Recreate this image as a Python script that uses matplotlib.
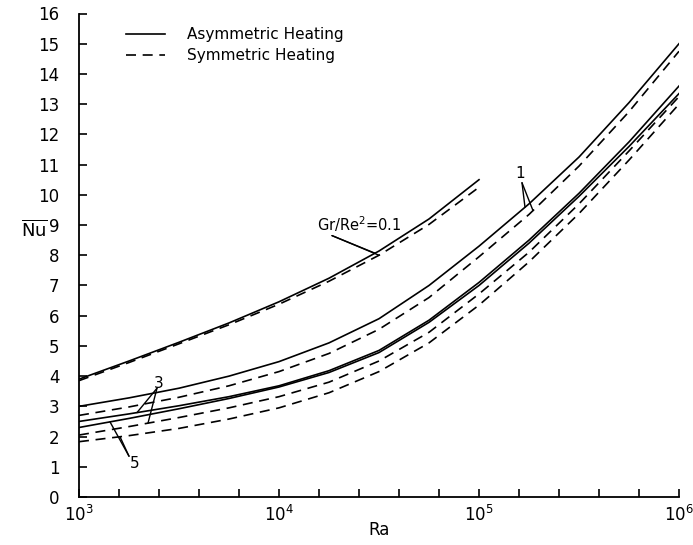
import numpy as np
import matplotlib.pyplot as plt
from matplotlib.ticker import FixedLocator, FuncFormatter, NullLocator

# log10(Ra) sample points
log_ra = np.array([3.0, 3.25, 3.5, 3.75, 4.0, 4.25, 4.5, 4.75, 5.0, 5.25, 5.5, 5.75, 6.0])
log_ra_01 = log_ra[:9]

# Gr/Re^2 = 0.1 (only up to Ra = 1e5)
nu01_asym = [3.9, 4.5, 5.12, 5.76, 6.46, 7.24, 8.14, 9.2, 10.5]
nu01_sym = [3.85, 4.45, 5.07, 5.7, 6.38, 7.14, 8.0, 9.02, 10.25]
# Gr/Re^2 = 1
nu1_asym = [3.0, 3.28, 3.6, 4.0, 4.48, 5.1, 5.9, 7.0, 8.3, 9.7, 11.25, 13.05, 15.0]
nu1_sym = [2.7, 2.98, 3.3, 3.68, 4.15, 4.75, 5.55, 6.6, 7.95, 9.35, 10.95, 12.75, 14.75]
# Gr/Re^2 = 3
nu3_asym = [2.5, 2.75, 3.02, 3.32, 3.68, 4.18, 4.85, 5.85, 7.1, 8.5, 10.05, 11.75, 13.6]
nu3_sym = [2.05, 2.33, 2.63, 2.95, 3.32, 3.8, 4.5, 5.45, 6.72, 8.1, 9.7, 11.45, 13.25]
# Gr/Re^2 = 5
nu5_asym = [2.3, 2.6, 2.92, 3.26, 3.64, 4.12, 4.78, 5.78, 7.0, 8.4, 9.95, 11.6, 13.35]
nu5_sym = [1.83, 2.03, 2.27, 2.58, 2.95, 3.45, 4.15, 5.1, 6.35, 7.78, 9.38, 11.15, 13.0]

ra = 10 ** log_ra
ra01 = 10 ** log_ra_01
dash = (0, (6, 4))

fig = plt.figure(figsize=(6.93, 5.45), dpi=100)
ax = fig.add_axes([79 / 693, 48 / 545, 600 / 693, 483.5 / 545])

for x, y, ls in [(ra01, nu01_asym, '-'), (ra01, nu01_sym, dash),
                 (ra, nu1_asym, '-'), (ra, nu1_sym, dash),
                 (ra, nu3_asym, '-'), (ra, nu3_sym, dash),
                 (ra, nu5_asym, '-'), (ra, nu5_sym, dash)]:
    ax.plot(x, y, color='black', lw=1.2, linestyle=ls)

ax.set_xscale('log')
ax.set_xlim(1e3, 1e6)
ax.set_ylim(0, 16)

for s in ['top', 'right']:
    ax.spines[s].set_visible(False)
ax.spines['left'].set_linewidth(1.3)
ax.spines['bottom'].set_linewidth(1.3)

ax.xaxis.set_major_locator(FixedLocator(10 ** np.arange(3.0, 6.01, 0.2)))
ax.xaxis.set_minor_locator(NullLocator())
def fmt(v, pos):
    e = np.log10(v)
    if abs(e - round(e)) < 1e-6:
        return r'$10^{%d}$' % round(e)
    return ''
ax.xaxis.set_major_formatter(FuncFormatter(fmt))
ax.set_yticks(range(0, 17))
ax.tick_params(direction='in', length=6, width=1.2, labelsize=12, pad=6)
ax.tick_params(axis='y', pad=14)

ax.set_xlabel('Ra', fontsize=12, labelpad=-3)
ax.set_ylabel(r'$\overline{\mathrm{Nu}}$', fontsize=13, rotation=0, labelpad=22)
ax.yaxis.set_label_coords(-0.075, 0.53)

# legend
ax.plot([], [], color='black', lw=1.2, linestyle='-', label='Asymmetric Heating')
ax.plot([], [], color='black', lw=1.2, linestyle=dash, label='Symmetric Heating')
ax.legend(loc='upper left', bbox_to_anchor=(0.055, 1.0), frameon=False, fontsize=11,
          handlelength=2.6, handletextpad=1.4, labelspacing=0.4)

def on_curve(lx, xs, ys):
    return (10 ** lx, np.interp(lx, xs, ys))

line_kw = dict(arrowstyle='-', color='black', lw=1.0, shrinkA=0, shrinkB=0)

# Gr/Re^2 = 0.1 label
ax.text(10 ** 4.19, 8.7, r'Gr/Re$^2$=0.1', fontsize=10.5, ha='left', va='bottom')
for lx, ys in [(4.48, nu01_asym), (4.5, nu01_sym)]:
    ax.annotate('', xy=on_curve(lx, log_ra_01, ys), xytext=(10 ** 4.265, 8.65), arrowprops=line_kw)

# 1
ax.text(10 ** 5.205, 10.45, '1', fontsize=11, ha='center', va='bottom')
for lx, ys in [(5.23, nu1_asym), (5.27, nu1_sym)]:
    ax.annotate('', xy=on_curve(lx, log_ra, ys), xytext=(10 ** 5.215, 10.4), arrowprops=line_kw)

# 3
ax.text(10 ** 3.4, 3.5, '3', fontsize=11, ha='center', va='bottom')
for lx, ys in [(3.29, nu3_asym), (3.345, nu3_sym)]:
    ax.annotate('', xy=on_curve(lx, log_ra, ys), xytext=(10 ** 3.39, 3.6), arrowprops=line_kw)

# 5
ax.text(10 ** 3.28, 0.85, '5', fontsize=11, ha='center', va='bottom')
for lx, ys in [(3.155, nu5_asym), (3.205, nu5_sym)]:
    ax.annotate('', xy=on_curve(lx, log_ra, ys), xytext=(10 ** 3.25, 1.35), arrowprops=line_kw)

fig.savefig('out.png', dpi=100)
